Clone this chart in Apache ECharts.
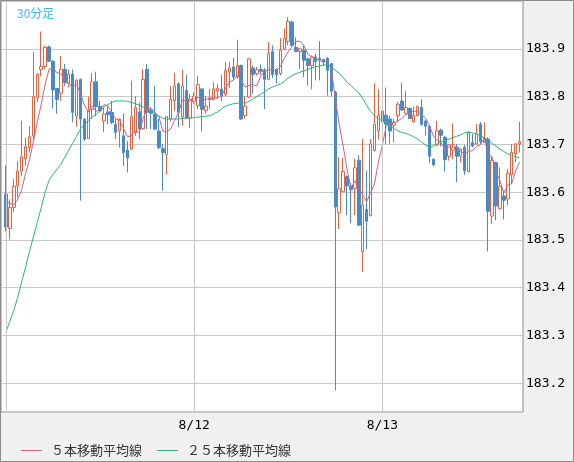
<!DOCTYPE html>
<html>
<head>
<meta charset="utf-8">
<title>30分足</title>
<script src="https://cdn.jsdelivr.net/npm/echarts@6/dist/echarts.min.js"></script>
<style>
  html, body { margin: 0; padding: 0; background: #f0f0f0; }
  #chart { width: 574px; height: 462px; }
</style>
</head>
<body>
<div id="chart"></div>
<script>
// 30分足 ローソク足 (始値 / 終値 / 安値 / 高値)
const opens = [
  183.596, 183.524, 183.568, 183.613, 183.644, 183.670, 183.693, 183.718, 183.798, 183.857,
  183.863, 183.904, 183.874, 183.817, 183.807, 183.857, 183.828, 183.847, 183.759, 183.836,
  183.753, 183.712, 183.773, 183.831, 183.780, 183.749, 183.768, 183.767, 183.742, 183.728,
  183.718, 183.688, 183.690, 183.725, 183.768, 183.733, 183.857, 183.772, 183.763, 183.728,
  183.691, 183.679, 183.753, 183.791, 183.827, 183.757, 183.813, 183.755, 183.790, 183.781,
  183.816, 183.771, 183.794, 183.794, 183.812, 183.816, 183.804, 183.851, 183.862, 183.841,
  183.865, 183.760, 183.799, 183.860, 183.848, 183.857, 183.855, 183.836, 183.894, 183.857,
  183.848, 183.899, 183.915, 183.956, 183.903, 183.894, 183.897, 183.879, 183.865, 183.883,
  183.880, 183.878, 183.880, 183.869, 183.809, 183.557, 183.601, 183.633, 183.613, 183.608,
  183.667, 183.475, 183.564, 183.551, 183.687, 183.728, 183.770, 183.761, 183.753, 183.740,
  183.760, 183.791, 183.765, 183.775, 183.747, 183.760, 183.777, 183.749, 183.738, 183.669,
  183.699, 183.730, 183.715, 183.675, 183.688, 183.694, 183.675, 183.694, 183.643, 183.704,
  183.701, 183.742, 183.704, 183.711, 183.550, 183.662, 183.565, 183.592, 183.586, 183.636,
  183.680, 183.701
];
const closes = [
  183.527, 183.568, 183.612, 183.644, 183.674, 183.695, 183.716, 183.800, 183.847, 183.863,
  183.903, 183.874, 183.814, 183.794, 183.857, 183.829, 183.847, 183.767, 183.834, 183.753,
  183.711, 183.772, 183.831, 183.779, 183.770, 183.764, 183.762, 183.746, 183.725, 183.753,
  183.683, 183.672, 183.758, 183.777, 183.732, 183.836, 183.767, 183.765, 183.732, 183.693,
  183.683, 183.758, 183.794, 183.822, 183.767, 183.822, 183.755, 183.795, 183.801, 183.825,
  183.773, 183.780, 183.797, 183.816, 183.817, 183.801, 183.855, 183.860, 183.841, 183.865,
  183.753, 183.780, 183.879, 183.846, 183.856, 183.853, 183.836, 183.890, 183.846, 183.846,
  183.897, 183.922, 183.957, 183.907, 183.894, 183.900, 183.876, 183.865, 183.883, 183.873,
  183.877, 183.872, 183.855, 183.811, 183.569, 183.607, 183.643, 183.613, 183.605, 183.651,
  183.531, 183.573, 183.539, 183.701, 183.742, 183.761, 183.747, 183.742, 183.728, 183.746,
  183.784, 183.772, 183.777, 183.754, 183.761, 183.779, 183.742, 183.738, 183.675, 183.657,
  183.728, 183.719, 183.668, 183.699, 183.694, 183.675, 183.690, 183.645, 183.726, 183.696,
  183.722, 183.706, 183.713, 183.560, 183.666, 183.571, 183.612, 183.583, 183.640, 183.683,
  183.701, 183.706
];
const lows = [
  183.518, 183.501, 183.558, 183.589, 183.634, 183.655, 183.683, 183.704, 183.788, 183.843,
  183.857, 183.872, 183.775, 183.764, 183.791, 183.822, 183.819, 183.746, 183.737, 183.582,
  183.707, 183.711, 183.753, 183.759, 183.767, 183.726, 183.742, 183.742, 183.711, 183.693,
  183.655, 183.641, 183.688, 183.718, 183.711, 183.731, 183.732, 183.732, 183.730, 183.690,
  183.603, 183.637, 183.748, 183.770, 183.736, 183.739, 183.753, 183.734, 183.785, 183.774,
  183.727, 183.764, 183.774, 183.792, 183.795, 183.790, 183.801, 183.818, 183.834, 183.837,
  183.751, 183.753, 183.797, 183.806, 183.844, 183.846, 183.774, 183.834, 183.839, 183.827,
  183.844, 183.897, 183.907, 183.906, 183.893, 183.858, 183.841, 183.823, 183.815, 183.834,
  183.834, 183.865, 183.802, 183.801, 183.185, 183.523, 183.600, 183.552, 183.535, 183.552,
  183.529, 183.433, 183.481, 183.549, 183.685, 183.710, 183.718, 183.701, 183.701, 183.704,
  183.746, 183.770, 183.763, 183.753, 183.745, 183.758, 183.739, 183.718, 183.661, 183.654,
  183.696, 183.696, 183.643, 183.666, 183.669, 183.621, 183.662, 183.636, 183.642, 183.694,
  183.699, 183.701, 183.703, 183.476, 183.534, 183.541, 183.563, 183.543, 183.572, 183.617,
  183.663, 183.683
];
const highs = [
  183.656, 183.585, 183.627, 183.665, 183.749, 183.714, 183.738, 183.894, 183.849, 183.936,
  183.907, 183.907, 183.876, 183.818, 183.885, 183.868, 183.857, 183.857, 183.836, 183.838,
  183.755, 183.800, 183.849, 183.852, 183.791, 183.779, 183.779, 183.791, 183.753, 183.755,
  183.765, 183.707, 183.833, 183.800, 183.787, 183.857, 183.868, 183.778, 183.822, 183.753,
  183.700, 183.760, 183.822, 183.850, 183.829, 183.856, 183.846, 183.806, 183.809, 183.844,
  183.818, 183.801, 183.816, 183.830, 183.827, 183.846, 183.872, 183.873, 183.881, 183.919,
  183.867, 183.801, 183.881, 183.865, 183.862, 183.867, 183.860, 183.914, 183.907, 183.859,
  183.922, 183.942, 183.966, 183.959, 183.924, 183.902, 183.907, 183.881, 183.886, 183.890,
  183.916, 183.879, 183.883, 183.870, 183.812, 183.673, 183.672, 183.635, 183.620, 183.670,
  183.677, 183.711, 183.645, 183.711, 183.828, 183.815, 183.791, 183.819, 183.760, 183.753,
  183.789, 183.829, 183.812, 183.777, 183.779, 183.781, 183.794, 183.751, 183.740, 183.670,
  183.749, 183.733, 183.718, 183.701, 183.744, 183.701, 183.692, 183.699, 183.728, 183.722,
  183.742, 183.747, 183.746, 183.715, 183.676, 183.664, 183.652, 183.603, 183.649, 183.701,
  183.703, 183.747
];
// 25本移動平均線 (表示範囲より前の足も含むため図から読み取り)
const ma25 = [
  183.307, 183.330, 183.353, 183.380, 183.412, 183.443, 183.476, 183.506, 183.537, 183.568,
  183.600, 183.625, 183.637, 183.648, 183.658, 183.673, 183.688, 183.702, 183.717, 183.732,
  183.742, 183.750, 183.757, 183.763, 183.770, 183.778, 183.783, 183.788, 183.791, 183.791,
  183.791, 183.790, 183.788, 183.785, 183.782, 183.778, 183.773, 183.769, 183.764, 183.759,
  183.755, 183.753, 183.753, 183.753, 183.753, 183.754, 183.755, 183.755, 183.756, 183.757,
  183.758, 183.759, 183.760, 183.764, 183.768, 183.774, 183.780, 183.783, 183.785, 183.786,
  183.787, 183.786, 183.790, 183.795, 183.800, 183.805, 183.810, 183.816, 183.820, 183.823,
  183.826, 183.832, 183.839, 183.844, 183.848, 183.851, 183.854, 183.857, 183.860, 183.863,
  183.864, 183.866, 183.867, 183.863, 183.855, 183.849, 183.840, 183.830, 183.823, 183.815,
  183.808, 183.796, 183.782, 183.769, 183.761, 183.754, 183.749, 183.744, 183.739, 183.733,
  183.728, 183.725, 183.723, 183.720, 183.716, 183.711, 183.705, 183.699, 183.694, 183.697,
  183.701, 183.705, 183.709, 183.711, 183.714, 183.717, 183.720, 183.724, 183.725, 183.724,
  183.722, 183.718, 183.714, 183.709, 183.702, 183.696, 183.690, 183.685, 183.680, 183.677,
  183.674, 183.672
];
// 5本移動平均線の最初の4本 (表示範囲外の足を含む)
const ma5Head = [183.579, 183.577, 183.573, 183.585];

const days = ['8/11', '8/12', '8/13'];
const yTicksMin = 183.14;
const yTicksMax = 184.0;

// 30分ごとのカテゴリ
const categories = [];
days.forEach(d => {
  for (let h = 0; h < 24; h++) {
    categories.push(d + ' ' + h + ':00');
    categories.push(d + ' ' + h + ':30');
  }
});
const cats = categories.slice(0, opens.length);
const dayStarts = cats.filter(c => c.endsWith(' 0:00'));

const candles = opens.map((o, i) => [o, closes[i], lows[i], highs[i]]);
const ma5 = closes.map((c, i) => {
  if (i < 4) return ma5Head[i];
  let s = 0;
  for (let k = i - 4; k <= i; k++) s += closes[k];
  return +(s / 5).toFixed(4);
});

const chart = echarts.init(document.getElementById('chart'));
const monoFont = 'DejaVu Sans Mono';
const jpFont = 'Noto Sans CJK JP';

chart.setOption({
  animation: false,
  backgroundColor: '#f0f0f0',
  title: {
    text: '30分足',
    left: 12,
    top: 2,
    textStyle: { color: '#3fb4ea', fontSize: 12, fontWeight: 'normal', fontFamily: jpFont }
  },
  legend: {
    left: 16,
    top: 439,
    icon: 'rect',
    itemWidth: 21,
    itemHeight: 1,
    itemGap: 15,
    data: ['５本移動平均線', '２５本移動平均線'],
    textStyle: { color: '#333', fontSize: 13, fontFamily: jpFont, padding: [0, 0, 0, 4] }
  },
  grid: [
    { left: 1, right: 51, top: 1, bottom: 50, show: true, backgroundColor: '#fff', borderColor: '#8c8c8c', borderWidth: 1 },
    { left: 4, right: 52.5, top: 1, bottom: 50 }
  ],
  xAxis: [
    { gridIndex: 0, type: 'value', min: 0, max: 1, show: false },
    {
      gridIndex: 1,
      type: 'category',
      data: cats,
      boundaryGap: true,
      axisLine: { show: false },
      axisTick: { show: false },
      splitLine: { show: false },
      axisLabel: {
        interval: (idx, v) => idx > 0 && v.endsWith(' 0:00'),
        formatter: v => v.split(' ')[0],
        color: '#000',
        fontFamily: monoFont,
        fontSize: 13,
        margin: 7
      }
    }
  ],
  yAxis: [
    {
      gridIndex: 0,
      type: 'value',
      position: 'right',
      min: yTicksMin,
      max: yTicksMax,
      minInterval: 0.1,
      maxInterval: 0.1,
      splitNumber: 9,
      axisLine: { show: false },
      axisTick: { show: false },
      axisLabel: {
        margin: 3,
        color: '#000',
        fontFamily: monoFont,
        fontSize: 13,
        showMinLabel: false,
        showMaxLabel: false,
        formatter: v => v.toFixed(1)
      },
      splitLine: { lineStyle: { color: '#c8c8c8', width: 1 } }
    },
    { gridIndex: 1, type: 'value', min: yTicksMin, max: yTicksMax, show: false }
  ],
  graphic: [
    {
      type: 'rect',
      z: 100,
      silent: true,
      shape: { x: 0.5, y: 0.5, width: 573, height: 461 },
      style: { fill: 'none', stroke: '#8c8c8c', lineWidth: 1 }
    }
  ],
  series: [
    {
      // 日付の縦線
      type: 'line',
      xAxisIndex: 1,
      yAxisIndex: 1,
      data: [],
      z: 1,
      silent: true,
      markLine: {
        silent: true,
        symbol: ['none', 'none'],
        label: { show: false },
        lineStyle: { color: '#c8c8c8', type: 'solid', width: 1 },
        data: dayStarts.map(c => ({ xAxis: c }))
      }
    },
    {
      type: 'candlestick',
      xAxisIndex: 1,
      yAxisIndex: 1,
      barWidth: 3,
      z: 3,
      data: candles,
      itemStyle: {
        color: '#fff',
        color0: '#4a8bc6',
        borderColor: '#dc6440',
        borderColor0: '#4a8bc6',
        borderWidth: 1
      }
    },
    {
      name: '５本移動平均線',
      type: 'line',
      xAxisIndex: 1,
      yAxisIndex: 1,
      data: ma5,
      symbol: 'none',
      z: 4,
      itemStyle: { color: '#c0648e' },
      lineStyle: { color: '#c0648e', width: 1 }
    },
    {
      name: '２５本移動平均線',
      type: 'line',
      xAxisIndex: 1,
      yAxisIndex: 1,
      data: ma25,
      symbol: 'none',
      z: 4,
      itemStyle: { color: '#2db673' },
      lineStyle: { color: '#2db673', width: 1 }
    }
  ]
});
</script>
</body>
</html>
